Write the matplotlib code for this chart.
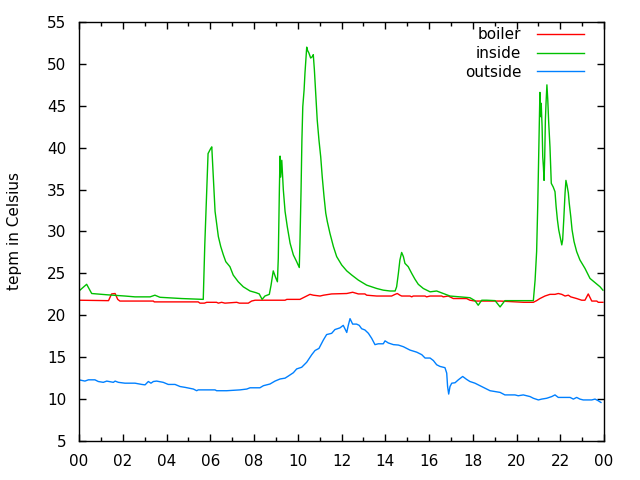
import matplotlib
matplotlib.use("Agg")
import matplotlib.pyplot as plt
from matplotlib.ticker import MultipleLocator, FuncFormatter

# ---- data (hours of day, degrees Celsius) ----
inside_t = [0.00, 0.35, 0.58, 1.27, 2.10, 2.56, 3.25, 3.47, 3.70, 4.69, 5.68, 5.75, 5.81, 5.87, 5.90,
            6.02, 6.07, 6.14, 6.22, 6.29, 6.37, 6.48, 6.60, 6.71, 6.90, 7.05, 7.28, 7.51, 7.82, 8.09,
            8.24, 8.37, 8.50, 8.70, 8.78, 8.88, 8.99, 9.07, 9.11, 9.16, 9.19, 9.22, 9.27, 9.34, 9.42,
            9.52, 9.65, 9.80, 9.95, 10.07, 10.10, 10.15, 10.19, 10.23, 10.29, 10.33, 10.38, 10.41,
            10.45, 10.51, 10.59, 10.68, 10.71, 10.76, 10.82, 10.89, 10.97, 11.05, 11.12, 11.20, 11.28,
            11.35, 11.47, 11.63, 11.78, 12.01, 12.24, 12.47, 12.77, 13.15, 13.61, 13.91, 14.22, 14.45,
            14.52, 14.60, 14.67, 14.75, 14.83, 14.90, 15.05, 15.21, 15.36, 15.51, 15.74, 16.05, 16.35,
            16.65, 16.96, 17.42, 17.87, 18.10, 18.25, 18.41, 18.64, 19.02, 19.25, 19.47, 20.77, 20.85,
            20.92, 20.97, 21.01, 21.04, 21.07, 21.11, 21.13, 21.17, 21.20, 21.23, 21.26, 21.29, 21.32,
            21.35, 21.39, 21.43, 21.47, 21.53, 21.59, 21.68, 21.76, 21.81, 21.87, 21.93, 21.99, 22.07,
            22.11, 22.16, 22.22, 22.26, 22.31, 22.37, 22.41, 22.48, 22.54, 22.63, 22.75, 22.90, 23.13,
            23.36, 23.59, 23.82, 23.95]
inside_v = [22.9, 23.7, 22.6, 22.45, 22.3, 22.2, 22.2, 22.4, 22.15, 22.0, 21.9, 28.4, 32.8, 36.9, 39.3,
            39.9, 40.1, 36.5, 32.4, 31.0, 29.4, 28.2, 27.2, 26.4, 25.8, 24.8, 24.0, 23.4, 22.9, 22.7,
            22.55, 21.9, 22.3, 22.5, 23.6, 25.3, 24.5, 24.0, 26.8, 35.0, 39.0, 36.5, 38.5, 35.0, 32.4,
            30.6, 28.6, 27.2, 26.4, 25.7, 28.6, 34.8, 40.9, 44.9, 46.9, 48.9, 50.9, 52.0,
            51.6, 51.3, 50.7, 50.9, 51.1, 49.3, 46.5, 43.3, 40.9, 38.9, 36.5, 34.2, 32.2,
            31.2, 29.8, 28.2, 27.0, 26.0, 25.3, 24.8, 24.2, 23.6, 23.2, 23.0, 22.9, 22.9,
            23.4, 25.0, 26.6, 27.5, 27.0, 26.2, 25.8, 25.0, 24.3, 23.7, 23.2, 22.8, 22.9,
            22.6, 22.3, 22.2, 22.1, 21.75, 21.2, 21.8, 21.8, 21.75, 21.0, 21.75, 21.75, 24.2,
            27.6, 33.0, 38.5, 42.5, 46.6, 43.7, 45.3, 42.5, 38.9, 37.7, 36.1, 38.9, 43.3,
            45.3, 47.5, 45.7, 43.1, 40.1, 35.75, 35.3, 34.75, 33.0, 31.4, 30.2, 29.4, 28.4,
            29.0, 31.4, 34.6, 36.1, 35.5, 34.6, 33.4, 31.8, 30.2, 28.8, 27.6, 26.6, 25.6,
            24.4, 23.9, 23.4, 23.0]

boiler_t = [0.00, 1.27, 1.35, 1.49, 1.65, 1.77, 1.87, 3.40, 3.44, 5.45, 5.53, 5.73, 5.84, 6.29, 6.37,
            6.52, 6.67, 7.21, 7.33, 7.74, 7.89, 8.05, 9.42, 9.50, 10.10, 10.33, 10.56, 10.71, 11.02,
            11.18, 11.55, 12.24, 12.51, 12.77, 13.07, 13.15, 13.61, 14.29, 14.45, 14.55, 14.67, 14.75,
            15.13, 15.21, 15.28, 15.82, 15.89, 16.05, 16.58, 16.65, 16.88, 17.11, 17.72, 17.87, 18.10,
            19.25, 20.34, 20.77, 20.92, 21.07, 21.30, 21.53, 21.76, 21.91, 22.07, 22.22, 22.37, 22.48,
            22.75, 22.98, 23.13, 23.28, 23.44, 23.67, 23.74, 23.95]
boiler_v = [21.8, 21.75, 21.75, 22.55, 22.6, 21.9, 21.7, 21.7, 21.6, 21.6, 21.45, 21.45, 21.55, 21.55, 21.45,
            21.55, 21.45, 21.55, 21.45, 21.45, 21.7, 21.8, 21.8, 21.9, 21.9, 22.2, 22.5, 22.4, 22.3,
            22.4, 22.55, 22.6, 22.75, 22.55, 22.55, 22.4, 22.3, 22.3, 22.5, 22.6, 22.4, 22.3,
            22.3, 22.2, 22.3, 22.3, 22.2, 22.3, 22.3, 22.2, 22.3, 22.0, 22.0, 21.8, 21.7,
            21.7, 21.55, 21.55, 21.75, 22.0, 22.3, 22.5, 22.5, 22.6, 22.5, 22.3, 22.4, 22.2,
            22.0, 21.8, 21.8, 22.55, 21.7, 21.7, 21.55, 21.55]

outside_t = [0.00, 0.27, 0.43, 0.73, 0.88, 1.11, 1.27, 1.57, 1.65, 1.80, 2.10, 2.56, 2.87, 3.02, 3.17,
             3.29, 3.40, 3.55, 3.85, 4.08, 4.39, 4.62, 4.85, 5.23, 5.38, 5.45, 6.22, 6.29, 6.75, 7.36,
             7.67, 7.82, 8.27, 8.43, 8.73, 8.96, 9.19, 9.42, 9.57, 9.80, 9.95, 10.18, 10.41, 10.64,
             10.79, 10.97, 11.17, 11.32, 11.55, 11.70, 11.93, 12.08, 12.24, 12.31, 12.39, 12.51, 12.69,
             12.81, 12.92, 13.07, 13.23, 13.38, 13.53, 13.68, 13.91, 13.99, 14.14, 14.37, 14.60, 14.83,
             15.13, 15.44, 15.67, 15.82, 16.05, 16.20, 16.35, 16.50, 16.73, 16.81, 16.85, 16.90, 16.96,
             17.04, 17.19, 17.34, 17.54, 17.72, 17.87, 18.10, 18.33, 18.56, 18.79, 19.25, 19.47, 19.93,
             20.08, 20.31, 20.62, 20.77, 21.00, 21.15, 21.38, 21.61, 21.76, 21.91, 22.22, 22.45, 22.60,
             22.75, 22.90, 23.05, 23.44, 23.59, 23.74, 23.86]
outside_v = [12.3, 12.15, 12.3, 12.3, 12.1, 12.0, 12.15, 12.0, 12.15, 12.0, 11.9, 11.9, 11.75, 11.7, 12.1,
             11.9, 12.1, 12.15, 12.0, 11.75, 11.75, 11.5, 11.4, 11.2, 11.0, 11.1, 11.1, 11.0, 11.0, 11.1,
             11.2, 11.35, 11.35, 11.6, 11.8, 12.15, 12.4, 12.5, 12.75, 13.15, 13.6, 13.8, 14.4, 15.3,
             15.8, 16.05, 17.05, 17.7, 17.85, 18.3, 18.5, 18.8, 17.95, 18.8, 19.6, 18.95, 18.95,
             18.8, 18.4, 18.25, 17.85, 17.25, 16.5, 16.6, 16.6, 16.95, 16.7, 16.5, 16.45, 16.25,
             15.85, 15.6, 15.3, 14.9, 14.9, 14.6, 14.1, 13.9, 13.75, 13.1, 11.5, 10.6, 11.5,
             11.9, 11.95, 12.3, 12.7, 12.35, 12.1, 11.9, 11.6, 11.3, 11.0, 10.8, 10.5, 10.5,
             10.4, 10.5, 10.3, 10.1, 9.9, 10.0, 10.1, 10.3, 10.5, 10.2, 10.2, 10.2, 10.0,
             10.2, 10.0, 9.9, 9.9, 10.0, 9.8, 9.6]

series_names = ["boiler", "inside", "outside"]
series_colors = ["#ff0000", "#00c000", "#0080ff"]
x_ticks = list(range(0, 25, 2))
y_ticks = list(range(5, 56, 5))
y_label = "tepm in Celsius"

plt.rcParams['font.family'] = ['DejaVu Sans']
fig = plt.figure(figsize=(6.4, 4.8), dpi=100)
ax = fig.add_axes([79/640, 39/480, 525/640, 419/480])

data = [(boiler_t, boiler_v), (inside_t, inside_v), (outside_t, outside_v)]
for (t, v), name, c in zip(data, series_names, series_colors):
    ax.plot(t, v, color=c, lw=1.0, label=name)

ax.set_xlim(0, 24)
ax.set_ylim(5, 55)
ax.set_xticks(x_ticks)
ax.xaxis.set_major_formatter(FuncFormatter(lambda x, p: "%02d" % (int(round(x)) % 24)))
ax.xaxis.set_minor_locator(MultipleLocator(1))
ax.set_yticks(y_ticks)
ax.tick_params(which='both', direction='in', top=True, right=True, labelsize=11, width=1, colors='black')
ax.tick_params(which='major', length=5)
ax.tick_params(which='minor', length=3)
ax.tick_params(axis='x', which='major', pad=9)
ax.tick_params(axis='y', which='major', pad=9)
for s in ax.spines.values():
    s.set_linewidth(1.0)
ax.set_ylabel(y_label, fontsize=11, labelpad=18)

leg = ax.legend(loc='upper right', frameon=False, markerfirst=False, fontsize=11,
                handlelength=3.1, handletextpad=1.0, labelspacing=0.25,
                bbox_to_anchor=(587/640, (480-24)/480), bbox_transform=fig.transFigure,
                borderaxespad=0.0, borderpad=0.2)
for txt in leg.get_texts():
    txt.set_ha('right')

fig.savefig("out.png", dpi=100)
